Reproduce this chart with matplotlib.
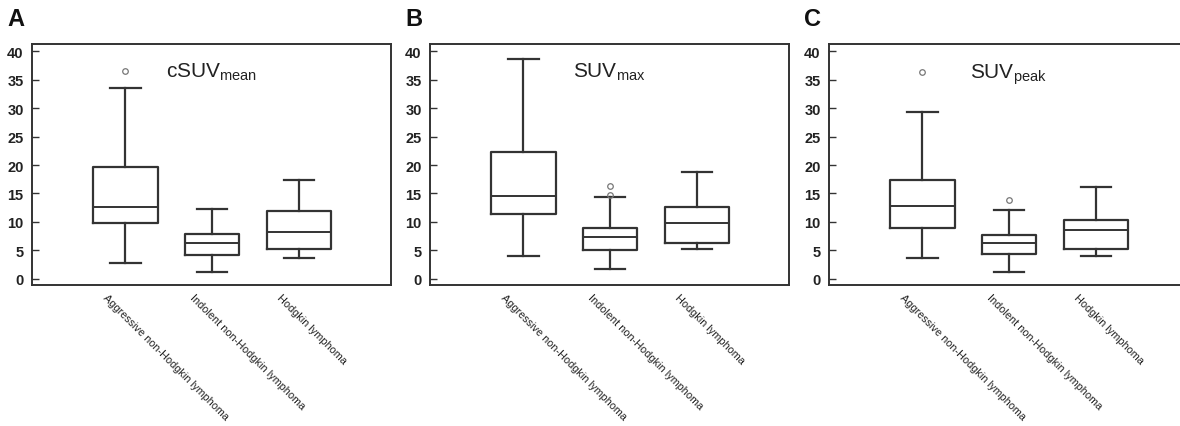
import matplotlib
matplotlib.use("Agg")
import matplotlib.pyplot as plt
from matplotlib.transforms import ScaledTranslation

plt.rcParams['font.family'] = ['Liberation Sans', 'DejaVu Sans']

categories = ["Aggressive non-Hodgkin lymphoma", "Indolent non-Hodgkin lymphoma", "Hodgkin lymphoma"]
panel_letters = ["A", "B", "C"]
panel_titles = [r"cSUV$_{\mathregular{mean}}$", r"SUV$_{\mathregular{max}}$", r"SUV$_{\mathregular{peak}}$"]

# [whislo, q1, median, q3, whishi] per category
csuv_mean = [[2.75, 9.85, 12.55, 19.7, 33.5],
             [1.1, 4.1, 6.27, 7.85, 12.2],
             [3.7, 5.2, 8.3, 11.96, 17.4]]
csuv_mean_fliers = [[36.5], [], []]

suv_max = [[4.0, 11.4, 14.5, 22.3, 38.6],
           [1.8, 5.1, 7.39, 8.85, 14.36],
           [5.2, 6.27, 9.8, 12.6, 18.7]]
suv_max_fliers = [[], [16.3, 14.7], []]

suv_peak = [[3.6, 9.0, 12.84, 17.4, 29.4],
            [1.23, 4.28, 6.27, 7.74, 12.1],
            [4.04, 5.2, 8.6, 10.26, 16.2]]
suv_peak_fliers = [[36.4], [13.8], []]

box_widths = [0.75, 0.62, 0.74]
yticks = [0, 5, 10, 15, 20, 25, 30, 35, 40]

panels = [(csuv_mean, csuv_mean_fliers), (suv_max, suv_max_fliers), (suv_peak, suv_peak_fliers)]

W, H = 1180, 427
fig = plt.figure(figsize=(W / 100, H / 100), dpi=100)
lefts = [32, 430, 829]
ax_w = 359
top_px, bot_px = 45, 286
lc = "#333333"

for i, (vals, fl) in enumerate(panels):
    ax = fig.add_axes([lefts[i] / W, 1 - bot_px / H, ax_w / W, (bot_px - top_px) / H])
    stats = []
    for v, f in zip(vals, fl):
        stats.append(dict(whislo=v[0], q1=v[1], med=v[2], q3=v[3], whishi=v[4], fliers=f))
    ax.bxp(stats, positions=[1, 2, 3], widths=box_widths, showfliers=True,
           boxprops=dict(color=lc, linewidth=1.6),
           medianprops=dict(color=lc, linewidth=1.4),
           whiskerprops=dict(color=lc, linewidth=1.6),
           capprops=dict(color=lc, linewidth=1.6),
           capwidths=[0.35, 0.35, 0.35],
           flierprops=dict(marker='o', markersize=4, markerfacecolor='none',
                           markeredgecolor='#777777', markeredgewidth=0.9))
    ax.set_xlim(-0.075, 4.06)
    ax.set_ylim(-1.1, 41.3)
    ax.set_yticks(yticks)
    ax.set_yticklabels([str(t) for t in yticks], fontsize=10.5, fontweight='bold', color='#222222')
    ax.tick_params(axis='y', direction='in', length=5, width=1, color=lc, pad=6)
    ax.set_xticks([1, 2, 3])
    ax.set_xticklabels(categories, rotation=-45, ha='left', va='top',
                       rotation_mode='anchor', fontsize=7.8, color='#222222')
    ax.tick_params(axis='x', length=0, pad=5)
    off = ScaledTranslation(-17 / 100, 0, fig.dpi_scale_trans)
    for lab in ax.get_xticklabels():
        lab.set_transform(lab.get_transform() + off)
    for s in ax.spines.values():
        s.set_color(lc)
        s.set_linewidth(1.4)
    ax.text(0.5, 0.93, panel_titles[i], transform=ax.transAxes, ha='center', va='top',
            fontsize=15, color='#222222')
    fig.text((lefts[i] - 25) / W, 1 - 20 / H, panel_letters[i], fontsize=17,
             fontweight='bold', ha='left', va='center', color='#111111')

fig.savefig("out.png", dpi=100)
